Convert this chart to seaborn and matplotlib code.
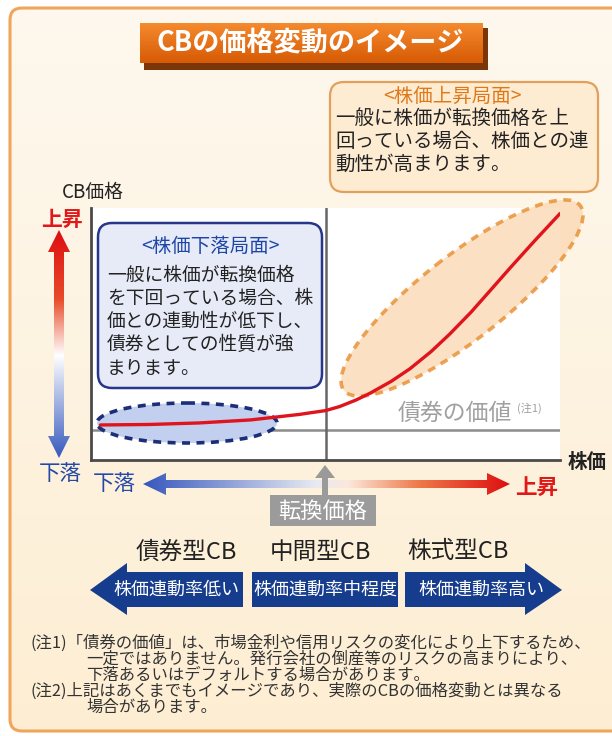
import numpy as np
import matplotlib
matplotlib.use("Agg")
import matplotlib.pyplot as plt
from matplotlib.patches import FancyBboxPatch, Ellipse, Polygon, Rectangle
from matplotlib.colors import LinearSegmentedColormap
import seaborn as sns

# ---- data (arbitrary units, 0-100) ----
stock_price = [2, 12.5, 23, 34, 44.5, 47, 50, 53, 56.5, 59.5, 64, 68, 72.5, 76.5, 81, 85,
               89.5, 94.5, 100]
cb_price = [13.9, 14.1, 14.7, 15.9, 18.1, 18.8, 19.6, 21.2, 23.8, 26.5, 31.2, 36.2, 43.0,
            50.0, 58.6, 67.0, 76.5, 86.8, 97.8]
conversion_price = 50
bond_value = 12

title = "CBの価格変動のイメージ"
up_title = "<株価上昇局面>"
up_lines = ["一般に株価が転換価格を上", "回っている場合、株価との連", "動性が高まります。"]
down_title = "<株価下落局面>"
down_lines = ["一般に株価が転換価格", "を下回っている場合、株", "価との連動性が低下し、",
              "債券としての性質が強", "まります。"]
cb_types = ["債券型CB", "中間型CB", "株式型CB"]
banner_labels = ["株価連動率低い", "株価連動率中程度", "株価連動率高い"]
notes = ["(注1)「債券の価値」は、市場金利や信用リスクの変化により上下するため、",
         "一定ではありません。発行会社の倒産等のリスクの高まりにより、",
         "下落あるいはデフォルトする場合があります。",
         "(注2)上記はあくまでもイメージであり、実際のCBの価格変動とは異なる",
         "場合があります。"]

sns.set_style("white")
plt.rcParams['font.family'] = ['Noto Sans CJK JP', 'DejaVu Sans']

W, H = 612, 736
fig = plt.figure(figsize=(W / 100, H / 100), dpi=100)
fig.patch.set_facecolor("white")


def pixel_axes(z):
    a = fig.add_axes([0, 0, 1, 1], zorder=z)
    a.set_xlim(0, W)
    a.set_ylim(H, 0)
    a.axis("off")
    return a


def gradient_fill(axp, patch, extent, stops, horizontal, z=1):
    axp.add_patch(patch)
    cmap = LinearSegmentedColormap.from_list("g", stops)
    g = np.linspace(0, 1, 256)
    img = g[None, :] if horizontal else g[:, None]
    im = axp.imshow(img, cmap=cmap, extent=extent, aspect="auto", origin="upper",
                    interpolation="bilinear", zorder=z)
    im.set_clip_path(patch)


bg = pixel_axes(0)

# outer frame
frame = FancyBboxPatch((10, 8), 640, 723, boxstyle="round,pad=0,rounding_size=12",
                       fc="none", ec="none")
gradient_fill(bg, frame, [10, 650, 731, 8], [(0, "#fef8ee"), (1, "#fdeed3")], False)
bg.add_patch(FancyBboxPatch((10, 8), 640, 723, boxstyle="round,pad=0,rounding_size=12",
                            fc="none", ec="#f0a55a", lw=2.2, zorder=3))

# title plate
bg.add_patch(Rectangle((144, 28), 344, 42, fc="#7a3608", ec="none", zorder=2))
plate = Rectangle((140, 23), 343, 40, fc="none", ec="none")
gradient_fill(bg, plate, [140, 483, 63, 23], [(0, "#f58a2e"), (1, "#d65a04")], False, z=3)
bg.text(310, 43, title, color="white", fontsize=19.5, fontweight="bold",
        ha="center", va="center", zorder=4)

# ---- chart area ----
ax = fig.add_axes([91 / W, 1 - 460 / H, 469 / W, 252 / H], zorder=1)
ax.set_facecolor("white")
ax.set_xlim(0, 100)
ax.set_ylim(0, 100)
ov = pixel_axes(2)

ax.axhline(bond_value, color="#8c8c8c", lw=1.8, zorder=1)
ax.axvline(conversion_price, color="#666666", lw=1.8, zorder=1)
ax.add_patch(Ellipse((187, 423), 180, 40, transform=ov.transData, fc="#c3cfee",
                     ec="#1b2f78", lw=2.6, ls=(0, (2.2, 1.8)), zorder=2, clip_on=False))
ax.add_patch(Ellipse((462, 298), 300, 84, angle=-38, transform=ov.transData,
                     fc="#fbd9b5", alpha=0.8, ec="#e98d2e", lw=2.6,
                     ls=(0, (2.2, 1.8)), zorder=2, clip_on=False))
sns.lineplot(x=stock_price, y=cb_price, ax=ax, color="#e0141c", linewidth=2.4, zorder=3,
             solid_joinstyle="round", solid_capstyle="round")
for s in ["top", "right"]:
    ax.spines[s].set_visible(False)
for s in ["left", "bottom"]:
    ax.spines[s].set_color("#4a4a4a")
    ax.spines[s].set_linewidth(2)
ax.set_xticks([])
ax.set_yticks([])
ax.set_xlabel("")
ax.set_ylabel("")

ov.text(398, 413, "債券の価値", color="#a0a0a0", fontsize=16.5, va="center", ha="left")
ov.text(517, 408, "(注1)", color="#a0a0a0", fontsize=8, va="center", ha="left")

# up callout
ov.add_patch(FancyBboxPatch((330, 82), 268, 110, boxstyle="round,pad=0,rounding_size=14",
                            fc="#fdebd2", ec="#e3a05a", lw=1.6))
ov.text(453, 96, up_title, color="#e07818", fontsize=14, ha="center", va="center")
for i, line in enumerate(up_lines):
    ov.text(335, 118 + 23 * i, line, color="#222222", fontsize=14, ha="left", va="center")

# down callout
ov.add_patch(FancyBboxPatch((98, 223), 224, 165, boxstyle="round,pad=0,rounding_size=14",
                            fc="#e7ebf7", ec="#27368a", lw=1.8))
ov.text(211, 247, down_title, color="#1d46a6", fontsize=14, ha="center", va="center")
for i, line in enumerate(down_lines):
    ov.text(107, 275 + 23.3 * i, line, color="#222222", fontsize=13.5, ha="left", va="center")

# axis labels
ov.text(62, 192, "CB価格", color="#222222", fontsize=13.5, ha="left", va="center")
ov.text(62, 219, "上昇", color="#e01818", fontsize=15, fontweight="bold", ha="center", va="center")
ov.text(60, 474, "下落", color="#2448a8", fontsize=15.5, ha="center", va="center")
ov.text(114, 484, "下落", color="#2448a8", fontsize=15.5, ha="center", va="center")
ov.text(537, 487, "上昇", color="#e01818", fontsize=15.5, fontweight="bold", ha="center", va="center")
ov.text(587, 462, "株価", color="#222222", fontsize=14, fontweight="bold", ha="center", va="center")

# gradient arrows
varrow = Polygon([(59, 230), (70, 252), (64, 252), (64, 436), (70, 436), (59, 458),
                  (48, 436), (54, 436), (54, 252), (48, 252)], closed=True, fc="none", ec="none")
gradient_fill(ov, varrow, [48, 70, 458, 230],
              [(0, "#dd0f10"), (0.3, "#e84a2a"), (0.55, "#ffffff"), (1, "#3658bd")], False)
harrow = Polygon([(143, 484), (166, 473), (166, 480), (487, 480), (487, 473), (510, 484),
                  (487, 495), (487, 488), (166, 488), (166, 495)], closed=True, fc="none", ec="none")
gradient_fill(ov, harrow, [143, 510, 495, 473],
              [(0, "#3658bd"), (0.47, "#e8eaf2"), (0.56, "#fbe8dc"), (0.75, "#ef7a4a"),
               (1, "#dd0f10")], True)

# conversion price marker
ov.add_patch(Polygon([(325, 465), (335, 478), (328, 478), (328, 495), (322, 495),
                      (322, 478), (315, 478)], closed=True, fc="#9a9a9a", ec="none"))
ov.add_patch(Rectangle((270, 495), 106, 31, fc="#9b9b9b", ec="none"))
ov.text(323, 511, "転換価格", color="white", fontsize=16, ha="center", va="center")

# CB types and banners
for x, lab in zip([186, 320, 458], cb_types):
    ov.text(x, 552, lab, color="#222222", fontsize=17, ha="center", va="center")
banner = "#163c8e"
ov.add_patch(Polygon([(90, 590), (127, 563), (127, 572), (243, 572), (243, 607),
                      (127, 607), (127, 615)], closed=True, fc=banner, ec="none"))
ov.add_patch(Rectangle((252, 572), 146, 35, fc=banner, ec="none"))
ov.add_patch(Polygon([(405, 572), (525, 572), (525, 563), (562, 590), (525, 615),
                      (525, 607), (405, 607)], closed=True, fc=banner, ec="none"))
for x, lab in zip([176, 325, 481], banner_labels):
    ov.text(x, 590, lab, color="white", fontsize=13, ha="center", va="center")

# notes
note_x = [30, 86, 86, 30, 86]
for i, (x, line) in enumerate(zip(note_x, notes)):
    ov.text(x, 643 + 16.2 * i, line, color="#333333", fontsize=11.8, ha="left", va="center")

for a in (bg, ov):
    a.set_xlim(0, W)
    a.set_ylim(H, 0)

fig.savefig("out.png", dpi=100)
